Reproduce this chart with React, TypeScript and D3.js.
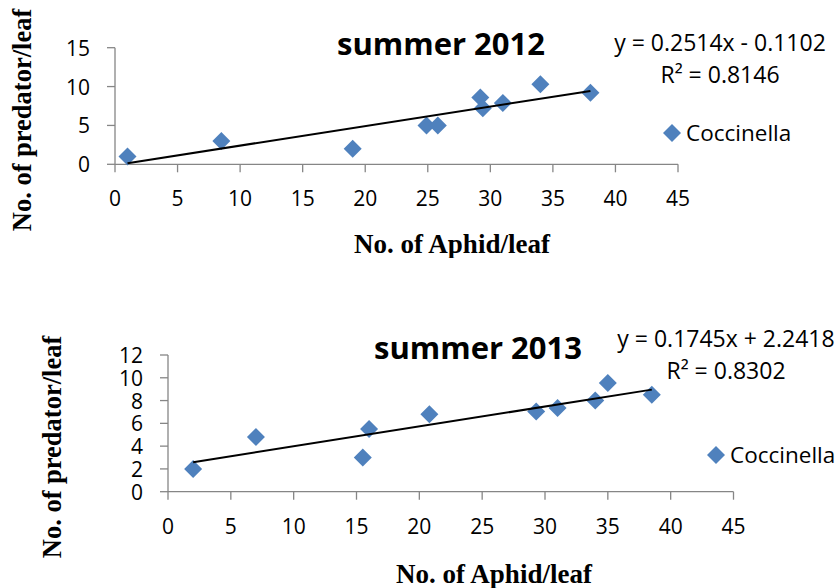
import React from "react";
import * as d3 from "d3";

const xTicks = [0, 5, 10, 15, 20, 25, 30, 35, 40, 45];
const yTicks2012 = [0, 5, 10, 15];
const yTicks2013 = [0, 2, 4, 6, 8, 10, 12];

const aphid2012 = [1, 8.5, 19, 24.9, 25.8, 29.2, 29.4, 31, 34, 38];
const predator2012 = [1, 3, 2, 5, 5, 8.6, 7.2, 7.9, 10.3, 9.2];
const aphid2013 = [2, 7, 15.5, 16, 20.8, 29.3, 31, 34, 35, 38.5];
const predator2013 = [2, 4.8, 3, 5.5, 6.8, 7.05, 7.35, 8, 9.55, 8.5];

const trend2012 = { slope: 0.2514, intercept: -0.1102, r2: "0.8146", eq: "y = 0.2514x - 0.1102" };
const trend2013 = { slope: 0.1745, intercept: 2.2418, r2: "0.8302", eq: "y = 0.1745x + 2.2418" };

const seriesName = "Coccinella";
const xTitle = "No. of Aphid/leaf";
const yTitle = "No. of predator/leaf";

const BLUE = "#4F81BD";
const AXIS = "#868686";
const SANS = "'Open Sans', 'Liberation Sans', sans-serif";
const SERIF = "'Liberation Serif', 'Times New Roman', serif";

type ChartProps = {
  title: string;
  xs: number[];
  ys: number[];
  yTicks: number[];
  trend: { slope: number; intercept: number; r2: string; eq: string };
  layout: {
    xRange: [number, number];
    yRange: [number, number];
    titlePos: [number, number];
    eqPos: [number, number];
    legendPos: [number, number];
    xTitlePos: [number, number];
    yTitlePos: [number, number];
    clipH?: number;
    clipY?: number;
  };
  id: string;
};

function diamond(cx: number, cy: number, r: number) {
  return `M${cx},${cy - r}L${cx + r},${cy}L${cx},${cy + r}L${cx - r},${cy}Z`;
}

function Chart({ title, xs, ys, yTicks, trend, layout, id }: ChartProps) {
  const x = d3.scaleLinear().domain([0, 45]).range(layout.xRange);
  const y = d3
    .scaleLinear()
    .domain([0, yTicks[yTicks.length - 1]])
    .range(layout.yRange);
  const x0 = layout.xRange[0];
  const y0 = layout.yRange[0];
  const xMin = d3.min(xs) as number;
  const xMax = d3.max(xs) as number;
  const line = d3
    .line<number>()
    .x((d) => x(d))
    .y((d) => y(trend.slope * d + trend.intercept));
  const r = 9;
  return (
    <g clipPath={layout.clipH ? `url(#clip-${id})` : undefined}>
      {layout.clipH ? (
        <defs>
          <clipPath id={`clip-${id}`}>
            <rect x={0} y={layout.clipY ?? 0} width={839} height={layout.clipH} />
          </clipPath>
        </defs>
      ) : null}
      <line x1={x0} x2={x0} y1={y(yTicks[yTicks.length - 1])} y2={y0} stroke={AXIS} strokeWidth={1.3} />
      <line x1={x0} x2={layout.xRange[1]} y1={y0} y2={y0} stroke={AXIS} strokeWidth={1.3} />
      {yTicks.map((t) => (
        <g key={"y" + t}>
          <line x1={x0 - 8} x2={x0} y1={y(t)} y2={y(t)} stroke={AXIS} strokeWidth={1.3} />
          <text
            x={x0 - 25}
            y={y(t)}
            textAnchor="end"
            dominantBaseline="central"
            fontFamily={SANS}
            fontSize={21}
            fill="#000"
          >
            {t}
          </text>
        </g>
      ))}
      {xTicks.map((t) => (
        <g key={"x" + t}>
          <line x1={x(t)} x2={x(t)} y1={y0} y2={y0 + 8} stroke={AXIS} strokeWidth={1.3} />
          <text x={x(t)} y={y0 + 42} textAnchor="middle" fontFamily={SANS} fontSize={21} fill="#000">
            {t}
          </text>
        </g>
      ))}
      {xs.map((v, i) => (
        <path key={"p" + i} d={diamond(x(v), y(ys[i]), r)} fill={BLUE} />
      ))}
      <path d={line([xMin, xMax]) || ""} stroke="#000" strokeWidth={2} fill="none" />
      <text
        x={layout.titlePos[0]}
        y={layout.titlePos[1]}
        textAnchor="middle"
        fontFamily={SANS}
        fontWeight="bold"
        fontSize={31}
        fill="#000"
      >
        {title}
      </text>
      <text x={layout.eqPos[0]} y={layout.eqPos[1]} textAnchor="middle" fontFamily={SANS} fontSize={23} fill="#000">
        {trend.eq}
      </text>
      <text
        x={layout.eqPos[0]}
        y={layout.eqPos[1] + 31.5}
        textAnchor="middle"
        fontFamily={SANS}
        fontSize={23}
        fill="#000"
      >
        {"R² = " + trend.r2}
      </text>
      <path d={diamond(layout.legendPos[0], layout.legendPos[1], r)} fill={BLUE} />
      <text
        x={layout.legendPos[0] + 14}
        y={layout.legendPos[1] + 8}
        fontFamily={SANS}
        fontSize={22.5}
        fill="#000"
      >
        {seriesName}
      </text>
      <text
        x={layout.xTitlePos[0]}
        y={layout.xTitlePos[1]}
        textAnchor="middle"
        fontFamily={SERIF}
        fontWeight="bold"
        fontSize={27}
        fill="#000"
      >
        {xTitle}
      </text>
      <text
        transform={`translate(${layout.yTitlePos[0]},${layout.yTitlePos[1]}) rotate(-90)`}
        textAnchor="middle"
        fontFamily={SERIF}
        fontWeight="bold"
        fontSize={26.5}
        fill="#000"
      >
        {yTitle}
      </text>
    </g>
  );
}

export default function App() {
  return (
    <svg
      width={839}
      height={588}
      style={{ position: "absolute", left: 0, top: 0, background: "#fff" }}
    >
      <rect width={839} height={588} fill="#fff" />
      <Chart
        id="a"
        title="summer 2012"
        xs={aphid2012}
        ys={predator2012}
        yTicks={yTicks2012}
        trend={trend2012}
        layout={{
          xRange: [115, 678],
          yRange: [164.3, 47.7],
          titlePos: [441, 55],
          eqPos: [720, 51],
          legendPos: [672, 133],
          xTitlePos: [452, 253],
          yTitlePos: [31, 120],
          clipY: 0,
          clipH: 258,
        }}
      />
      <Chart
        id="b"
        title="summer 2013"
        xs={aphid2013}
        ys={predator2013}
        yTicks={yTicks2013}
        trend={trend2013}
        layout={{
          xRange: [168, 733.5],
          yRange: [491.7, 355],
          titlePos: [478, 359],
          eqPos: [726, 347],
          legendPos: [716, 455],
          xTitlePos: [494, 583],
          yTitlePos: [61, 447],
        }}
      />
    </svg>
  );
}
